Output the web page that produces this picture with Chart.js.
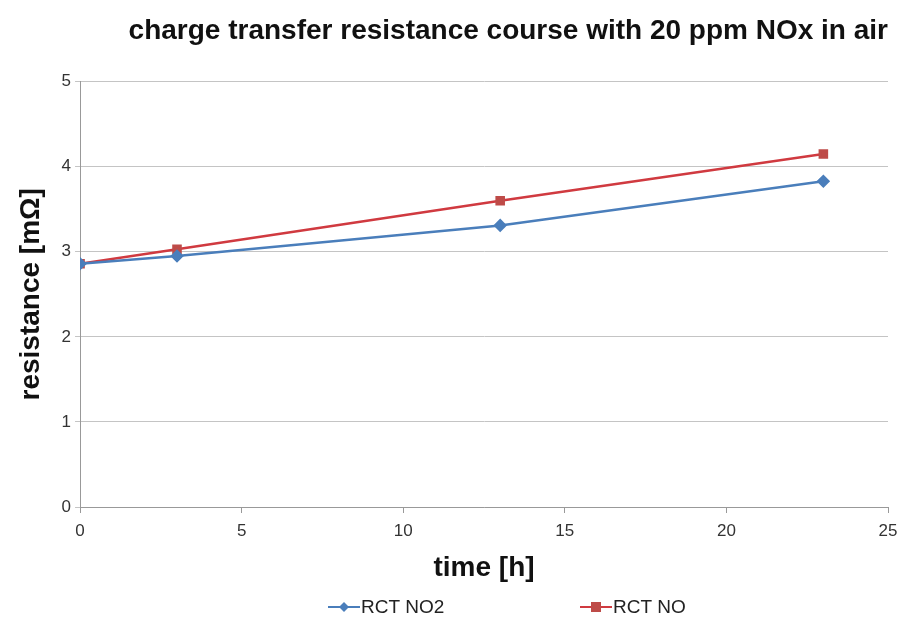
<!DOCTYPE html>
<html>
<head>
<meta charset="utf-8">
<script src="https://cdn.jsdelivr.net/npm/chart.js@4"></script>
<style>
  html, body { margin: 0; padding: 0; background: #fff; }
  #wrap { width: 906px; height: 623px; }
</style>
</head>
<body>
<div id="wrap"><canvas id="rctChart" width="906" height="623"></canvas></div>
<script>
// values
const timeHours = [0, 3, 13, 23];
const rctNO2 = [2.86, 2.95, 3.31, 3.83];
const rctNO = [2.86, 3.03, 3.60, 4.15];
const seriesNames = ['RCT NO2', 'RCT NO'];
const xTicks = [0, 5, 10, 15, 20, 25];
const yTicks = [0, 1, 2, 3, 4, 5];

const FONT = 'Liberation Sans, Arial, sans-serif';

// legend drawn as line + marker, like the original
const lineLegend = {
    id: 'lineLegend',
    afterDraw(chart) {
        const c = chart.ctx;
        const starts = [328, 580];
        const y = 607;
        chart.data.datasets.forEach((ds, i) => {
            const x0 = starts[i];
            c.save();
            c.strokeStyle = ds.borderColor;
            c.lineWidth = 2;
            c.beginPath();
            c.moveTo(x0, y);
            c.lineTo(x0 + 32, y);
            c.stroke();
            c.fillStyle = ds.pointBackgroundColor;
            const mx = x0 + 16;
            if (ds.pointStyle === 'rect') {
                c.fillRect(mx - 5, y - 5, 10, 10);
            } else {
                c.beginPath();
                c.moveTo(mx, y - 5);
                c.lineTo(mx + 5, y);
                c.lineTo(mx, y + 5);
                c.lineTo(mx - 5, y);
                c.closePath();
                c.fill();
            }
            c.fillStyle = '#222';
            c.font = '19px ' + FONT;
            c.textBaseline = 'middle';
            c.fillText(ds.label, x0 + 33, y + 1);
            c.restore();
        });
    }
};

const ctx = document.getElementById('rctChart').getContext('2d');
new Chart(ctx, {
    type: 'line',
    data: {
        datasets: [
            {
                label: seriesNames[0],
                data: timeHours.map((t, i) => ({ x: t, y: rctNO2[i] })),
                borderColor: '#4a7ebb',
                backgroundColor: '#4a7ebb',
                pointBackgroundColor: '#4a7ebb',
                pointBorderColor: '#4a7ebb',
                pointStyle: 'rectRot',
                pointRadius: 5,
                borderWidth: 2.5,
                tension: 0
            },
            {
                label: seriesNames[1],
                data: timeHours.map((t, i) => ({ x: t, y: rctNO[i] })),
                borderColor: '#d03a40',
                backgroundColor: '#be4b48',
                pointBackgroundColor: '#be4b48',
                pointBorderColor: '#be4b48',
                pointStyle: 'rect',
                pointRadius: 5,
                borderWidth: 2.5,
                tension: 0
            }
        ]
    },
    options: {
        responsive: false,
        animation: false,
        layout: { padding: { left: 14, right: 18, top: 4, bottom: 38 } },
        scales: {
            x: {
                type: 'linear',
                min: 0,
                max: 25,
                afterBuildTicks: (axis) => { axis.ticks = xTicks.map(v => ({ value: v })); },
                ticks: { color: '#333', font: { family: FONT, size: 17 }, padding: 8 },
                grid: { drawOnChartArea: false, drawTicks: true, tickLength: 6, color: '#999' },
                border: { color: '#999' },
                title: {
                    display: true,
                    text: 'time [h]',
                    color: '#111',
                    font: { family: FONT, size: 28, weight: 'bold' },
                    padding: { top: 2, bottom: 0 }
                }
            },
            y: {
                min: 0,
                max: 5,
                afterBuildTicks: (axis) => { axis.ticks = yTicks.map(v => ({ value: v })); },
                ticks: { color: '#333', font: { family: FONT, size: 17 }, padding: 4 },
                grid: { color: '#c4c4c4', drawTicks: true, tickLength: 5 },
                border: { color: '#999' },
                title: {
                    display: true,
                    text: 'resistance [mΩ]',
                    color: '#111',
                    font: { family: FONT, size: 28, weight: 'bold' },
                    padding: { top: 0, bottom: 10 }
                }
            }
        },
        plugins: {
            legend: { display: false },
            tooltip: { enabled: false },
            title: {
                display: true,
                text: 'charge transfer resistance course with 20 ppm NOx in air',
                align: 'end',
                color: '#111',
                font: { family: FONT, size: 28, weight: 'bold' },
                padding: { top: 10, bottom: 34 }
            }
        }
    },
    plugins: [lineLegend]
});
</script>
</body>
</html>
